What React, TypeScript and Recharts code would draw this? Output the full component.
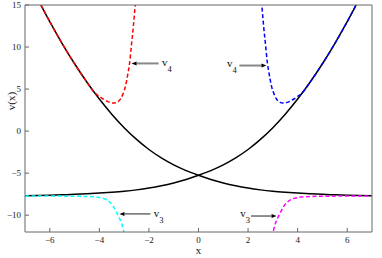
import { LineChart, Line, XAxis, YAxis, ReferenceLine, ReferenceDot } from "recharts";

// sample grid for the two black curves
const xGrid = [-7, -6.5, -6, -5.5, -5, -4.5, -4, -3.5, -3, -2.5, -2, -1.5, -1, -0.5, 0, 0.5, 1, 1.5, 2, 2.5, 3, 3.5, 4, 4.5, 5, 5.5, 6, 6.5, 7];
const fallingV = [18.81, 15.81, 13.01, 10.41, 8.01, 5.81, 3.81, 2.01, 0.41, -0.99, -2.19, -3.19, -4.02, -4.7, -5.25, -5.75, -6.17, -6.51, -6.78, -6.99, -7.15, -7.27, -7.37, -7.45, -7.52, -7.575, -7.625, -7.665, -7.7];
const risingV = [-7.7, -7.665, -7.625, -7.575, -7.52, -7.45, -7.37, -7.27, -7.15, -6.99, -6.78, -6.51, -6.17, -5.75, -5.25, -4.7, -4.02, -3.19, -2.19, -0.99, 0.41, 2.01, 3.81, 5.81, 8.01, 10.41, 13.01, 15.81, 18.81];

// v4 (upper dashed)
const v4LeftX = [-6.6, -6.34, -6, -5.5, -5, -4.5, -4.2, -4.0, -3.85, -3.7, -3.55, -3.45, -3.35, -3.25, -3.15, -3.05, -2.95, -2.85, -2.78, -2.7, -2.63, -2.56, -2.5];
const v4LeftY = [16.4, 14.9, 13.01, 10.41, 8.01, 5.81, 4.6, 4.12, 3.82, 3.57, 3.39, 3.33, 3.36, 3.5, 3.8, 4.4, 5.3, 6.8, 8.1, 10.4, 12.4, 14.8, 17.0];
const v4RightX = [2.5, 2.56, 2.63, 2.7, 2.78, 2.85, 2.95, 3.05, 3.15, 3.25, 3.35, 3.45, 3.55, 3.7, 3.85, 4.0, 4.2, 4.5, 5, 5.5, 6, 6.34, 6.6];
const v4RightY = [17.0, 14.8, 12.4, 10.4, 8.1, 6.8, 5.3, 4.4, 3.8, 3.5, 3.36, 3.33, 3.39, 3.57, 3.82, 4.12, 4.6, 5.81, 8.01, 10.41, 13.01, 14.9, 16.4];

// v3 (lower dashed)
const v3LeftX = [-7, -6, -5.2, -4.7, -4.3, -4.0, -3.8, -3.6, -3.45, -3.3, -3.2, -3.1, -3.0, -2.95];
const v3LeftY = [-7.71, -7.72, -7.74, -7.76, -7.8, -7.9, -8.05, -8.4, -8.9, -9.7, -10.3, -11.0, -12.1, -12.6];
const v3RightX = [2.95, 3.0, 3.1, 3.2, 3.3, 3.45, 3.6, 3.8, 4.0, 4.3, 4.7, 5.2, 6, 7];
const v3RightY = [-12.6, -12.1, -11.0, -10.3, -9.7, -8.9, -8.4, -8.05, -7.9, -7.8, -7.76, -7.74, -7.72, -7.71];

const xTicks = [-6, -4, -2, 0, 2, 4, 6];
const yTicks = [-10, -5, 0, 5, 10, 15];

const pts = (xs: number[], ys: number[]) => xs.map((x, i) => ({ x, y: ys[i] }));

const FONT = "'Liberation Serif', 'Times New Roman', serif";
const AXIS = "#666";
const fmt = (v: number) => String(v).replace("-", "\u2212");

function Arrow(props: any) {
  const { x1, y1, x2, y2, stroke, strokeWidth } = props;
  const a = Math.atan2(y2 - y1, x2 - x1);
  const L = 5;
  const W = 2;
  const bx = x2 - L * Math.cos(a);
  const by = y2 - L * Math.sin(a);
  const px = -Math.sin(a) * W;
  const py = Math.cos(a) * W;
  return (
    <g>
      <line x1={x1} y1={y1} x2={bx} y2={by} stroke={stroke} strokeWidth={strokeWidth} />
      <polygon points={`${x2},${y2} ${bx + px},${by + py} ${bx - px},${by - py}`} fill="#000" />
    </g>
  );
}

const vLabel = (sub: string) => (p: any) => (
  <text x={p.cx} y={p.cy} fontFamily={FONT} fontSize={11} fill="#111">
    v<tspan dy={6} fontSize={8.5}>{sub}</tspan>
  </text>
);

export default function App() {
  const dash = "4 2.5";
  return (
    <div style={{ position: "absolute", left: 0, top: 0, background: "#fff" }}>
      <LineChart width={382} height={258} margin={{ top: 4, right: 9, bottom: 0, left: 0 }}>
        <XAxis
          type="number"
          dataKey="x"
          domain={[-7, 7]}
          ticks={xTicks}
          allowDataOverflow
          height={26}
          stroke={AXIS}
          tickSize={-4}
          tickMargin={9}
          tickFormatter={fmt}
          tick={{ fontSize: 9, fill: "#222", fontFamily: FONT }}
          label={(p: any) => (
            <text x={p.viewBox.x + p.viewBox.width / 2} y={p.viewBox.y + 22} textAnchor="middle" fontFamily={FONT} fontSize={11} fill="#111">
              x
            </text>
          )}
        />
        <XAxis xAxisId="top" orientation="top" type="number" dataKey="x" domain={[-7, 7]} ticks={xTicks} allowDataOverflow height={1} stroke={AXIS} tickSize={-4} tick={false} />
        <YAxis
          type="number"
          domain={[-12, 15]}
          ticks={yTicks}
          allowDataOverflow
          width={25}
          stroke={AXIS}
          tickSize={-4}
          tickMargin={8}
          tickFormatter={fmt}
          tick={{ fontSize: 9, fill: "#222", fontFamily: FONT }}
          label={(p: any) => {
            const cx = 14.5;
            const cy = p.viewBox.y + 96;
            return (
              <text x={cx} y={cy} transform={`rotate(-90, ${cx}, ${cy})`} textAnchor="middle" fontFamily={FONT} fontSize={11} fill="#111">
                v(x)
              </text>
            );
          }}
        />
        <YAxis yAxisId="right" orientation="right" type="number" domain={[-12, 15]} ticks={yTicks} allowDataOverflow width={1} stroke={AXIS} tickSize={-4} tick={false} />

        <Line data={pts(xGrid, fallingV)} dataKey="y" type="monotone" stroke="#000" strokeWidth={1.5} dot={false} activeDot={false} isAnimationActive={false} />
        <Line data={pts(xGrid, risingV)} dataKey="y" type="monotone" stroke="#000" strokeWidth={1.5} dot={false} activeDot={false} isAnimationActive={false} />
        <Line data={pts(v4LeftX, v4LeftY)} dataKey="y" type="monotone" stroke="#ff0000" strokeWidth={1.5} strokeDasharray={dash} dot={false} activeDot={false} isAnimationActive={false} />
        <Line data={pts(v4RightX, v4RightY)} dataKey="y" type="monotone" stroke="#0000ff" strokeWidth={1.5} strokeDasharray={dash} dot={false} activeDot={false} isAnimationActive={false} />
        <Line data={pts(v3LeftX, v3LeftY)} dataKey="y" type="monotone" stroke="#00ffff" strokeWidth={1.5} strokeDasharray={dash} dot={false} activeDot={false} isAnimationActive={false} />
        <Line data={pts(v3RightX, v3RightY)} dataKey="y" type="monotone" stroke="#ff00ff" strokeWidth={1.5} strokeDasharray={dash} dot={false} activeDot={false} isAnimationActive={false} />

        {/* annotations */}
        <ReferenceLine segment={[{ x: -1.61, y: 8.05 }, { x: -2.7, y: 8.05 }]} stroke="#888" strokeWidth={2} shape={Arrow} />
        <ReferenceLine segment={[{ x: 1.65, y: 7.8 }, { x: 2.74, y: 7.8 }]} stroke="#888" strokeWidth={2} shape={Arrow} />
        <ReferenceLine segment={[{ x: -1.94, y: -9.85 }, { x: -3.19, y: -9.85 }]} stroke="#222" strokeWidth={1} shape={Arrow} />
        <ReferenceLine segment={[{ x: 2.12, y: -10.1 }, { x: 3.15, y: -10.1 }]} stroke="#222" strokeWidth={1} shape={Arrow} />
        <ReferenceDot x={-1.47} y={7.69} r={1} shape={vLabel("4")} />
        <ReferenceDot x={1.15} y={7.62} r={1} shape={vLabel("4")} />
        <ReferenceDot x={-1.81} y={-10.17} r={1} shape={vLabel("3")} />
        <ReferenceDot x={1.68} y={-10.2} r={1} shape={vLabel("3")} />
      </LineChart>
    </div>
  );
}
